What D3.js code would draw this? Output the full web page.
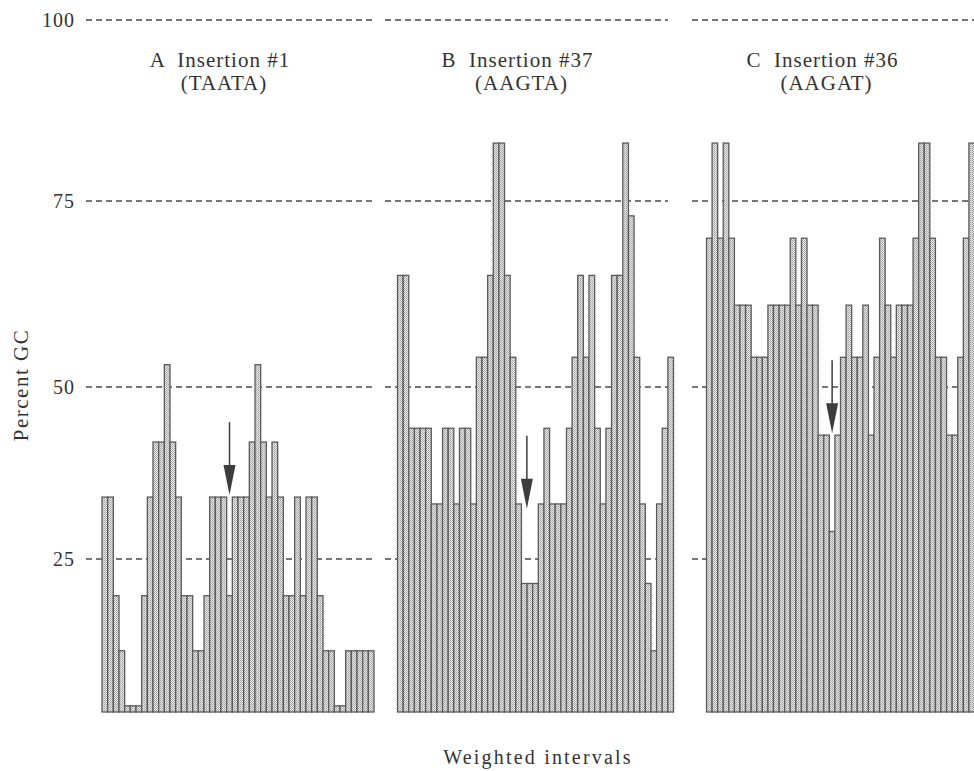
<!DOCTYPE html>
<html>
<head>
<meta charset="utf-8">
<script src="https://cdn.jsdelivr.net/npm/d3@7"></script>
<style>
  html, body { margin: 0; padding: 0; background: #ffffff; }
  svg { display: block; }
  text { font-family: "Liberation Serif", "DejaVu Serif", serif; fill: #333333; }
</style>
</head>
<body>
<svg id="chart" width="974" height="771"></svg>
<script>
// ---------------- data ----------------
const panelLetters = ["A", "B", "C"];
const insertionNames = ["Insertion #1", "Insertion #37", "Insertion #36"];
const motifs = ["(TAATA)", "(AAGTA)", "(AAGAT)"];

// Percent GC per weighted interval
const gcA = [34,34,19,10,1,1,1,19,34,42,42,53,42,34,19,19,10,10,19,34,34,34,19,34,34,34,42,53,42,34,42,34,19,19,34,19,34,34,19,10,10,1,1,10,10,10,10,10];
const gcB = [65,65,44,44,44,44,33,33,44,44,33,44,44,33,54,54,65,83,83,65,54,33,21,21,21,33,44,33,33,33,44,54,65,54,65,44,33,44,65,65,83,73,54,33,21,10,33,44,54];
const gcC = [70,83,70,83,70,61,61,61,54,54,54,61,61,61,61,70,61,70,61,61,43,43,29,43,54,61,54,54,61,43,54,70,61,54,61,61,61,70,83,83,70,54,54,43,43,54,70,83];

// insertion site (arrow) : interval index and level the arrow points to
const arrowIndex = [22, 23, 22];
const arrowLevel = [34, 32, 43];

const yTicks = [25, 50, 75, 100];
const yTickLabels = ["25", "50", "75", "100"];
const yLabel = "Percent GC";
const xLabel = "Weighted intervals";

// ---------------- layout ----------------
const svg = d3.select("#chart");
const series = [gcA, gcB, gcC];
const panelX = [[102, 374], [397.5, 673.5], [706.5, 974.5]];
const gridX = [[86, 372], [385, 668], [692, 974]];

// scanned axis is slightly uneven: piecewise-linear fit through the printed gridlines
const y = d3.scaleLinear().domain([0, 25, 50, 75, 100]).range([712, 559, 387, 201, 20]);

// stipple pattern for bars
const defs = svg.append("defs");
const pat = defs.append("pattern").attr("id", "stip").attr("patternUnits", "userSpaceOnUse")
  .attr("width", 2).attr("height", 2);
pat.append("rect").attr("width", 2).attr("height", 2).attr("fill", "#e8e8e8");
pat.append("rect").attr("x", 0).attr("y", 0).attr("width", 1).attr("height", 1).attr("fill", "#a0a0a0");
pat.append("rect").attr("x", 1).attr("y", 1).attr("width", 1).attr("height", 1).attr("fill", "#b4b4b4");

// y tick labels
svg.append("g").selectAll("text").data(yTicks).join("text")
  .attr("x", 75).attr("y", d => y(d)).attr("dy", "0.35em")
  .attr("text-anchor", "end").style("font-size", "20px").style("letter-spacing", "1px")
  .text((d, i) => yTickLabels[i]);

// axis titles
svg.append("text").attr("transform", `translate(28,${385}) rotate(-90)`)
  .attr("text-anchor", "middle").style("font-size", "21px").style("letter-spacing", "1.5px").text(yLabel);
svg.append("text").attr("x", 538).attr("y", 764)
  .attr("text-anchor", "middle").style("font-size", "20px").style("letter-spacing", "2.2px").text(xLabel);

series.forEach((vals, p) => {
  const g = svg.append("g");
  const x = d3.scaleBand().domain(d3.range(vals.length)).range(panelX[p]).paddingInner(0).paddingOuter(0);

  // dashed gridlines (behind bars)
  g.append("g").selectAll("line").data(yTicks).join("line")
    .attr("x1", gridX[p][0]).attr("x2", gridX[p][1])
    .attr("y1", d => y(d)).attr("y2", d => y(d))
    .attr("stroke", "#4a4a4a").attr("stroke-width", 1.3).attr("stroke-dasharray", "6,4");

  // bars
  g.append("g").selectAll("rect").data(vals).join("rect")
    .attr("x", (d, i) => x(i)).attr("width", x.bandwidth())
    .attr("y", d => y(d)).attr("height", d => y(0) - y(d))
    .attr("fill", "url(#stip)").attr("stroke", "#5a5a5a").attr("stroke-width", 1.3);

  // arrow marking insertion site
  const ax = x(arrowIndex[p]) + x.bandwidth() / 2 - (p === 1 ? 3 : 0);
  const tip = y(arrowLevel[p]) - 2;
  g.append("line").attr("x1", ax).attr("x2", ax).attr("y1", tip - 73).attr("y2", tip - 28)
    .attr("stroke", "#3d3d3d").attr("stroke-width", 1.5);
  g.append("path")
    .attr("d", `M${ax - 6},${tip - 30} L${ax + 6},${tip - 30} L${ax},${tip} Z`)
    .attr("fill", "#3d3d3d");

  // titles
  const cx = (panelX[p][0] + panelX[p][1]) / 2;
  g.append("text").attr("x", cx - 18).attr("y", 67).attr("text-anchor", "middle")
    .style("font-size", "21px").style("letter-spacing", "1px").style("white-space", "pre")
    .text(panelLetters[p] + "  " + insertionNames[p]);
  g.append("text").attr("x", cx - 14).attr("y", 90).attr("text-anchor", "middle")
    .style("font-size", "21px").style("letter-spacing", "1px").text(motifs[p]);
});
</script>
</body>
</html>
